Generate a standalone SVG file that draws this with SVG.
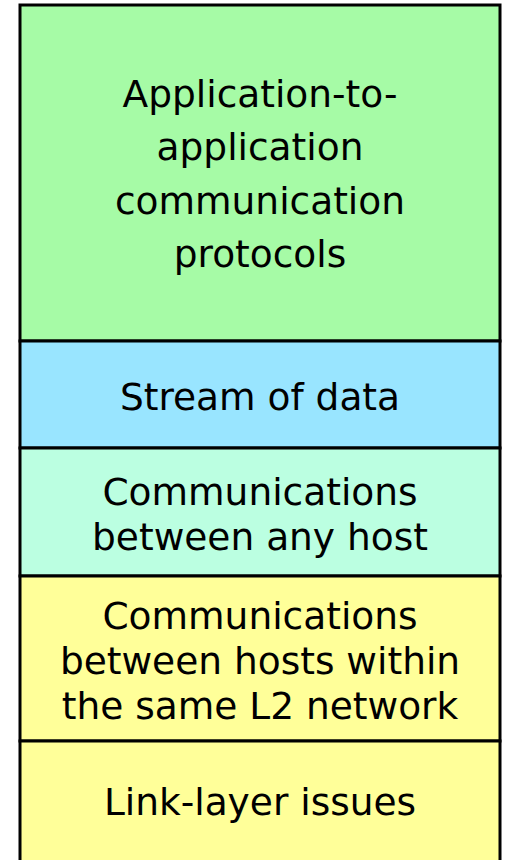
<svg xmlns="http://www.w3.org/2000/svg" width="508" height="860" viewBox="0 0 508 860">
<style>
.b{stroke:#000;stroke-width:3}
text{font-family:"DejaVu Sans",Verdana,sans-serif;font-size:37.5px;fill:#000;text-anchor:middle}
</style>
<rect width="508" height="860" fill="#fff"/>
<g id="app"><rect class="b" x="20" y="5" width="480" height="336" fill="#A6FBA6"/>
<text x="260" y="107">Application-to-</text><text x="260" y="160">application</text><text x="260" y="214">communication</text><text x="260" y="267">protocols</text></g>
<g id="stream"><rect class="b" x="20" y="341" width="480" height="107" fill="#99E5FF"/>
<text x="260" y="410">Stream of data</text></g>
<g id="any"><rect class="b" x="20" y="448" width="480" height="128" fill="#BBFFE1"/>
<text x="260" y="505">Communications</text><text x="260" y="550">between any host</text></g>
<g id="l2"><rect class="b" x="20" y="576" width="480" height="165" fill="#FFFF99"/>
<text x="260" y="629">Communications</text><text x="260" y="674">between hosts within</text><text x="260" y="719">the same L2 network</text></g>
<g id="link"><rect class="b" x="20" y="741" width="480" height="125" fill="#FFFF99"/>
<text x="260" y="815">Link-layer issues</text></g>
<g id="connectors"/>
</svg>
